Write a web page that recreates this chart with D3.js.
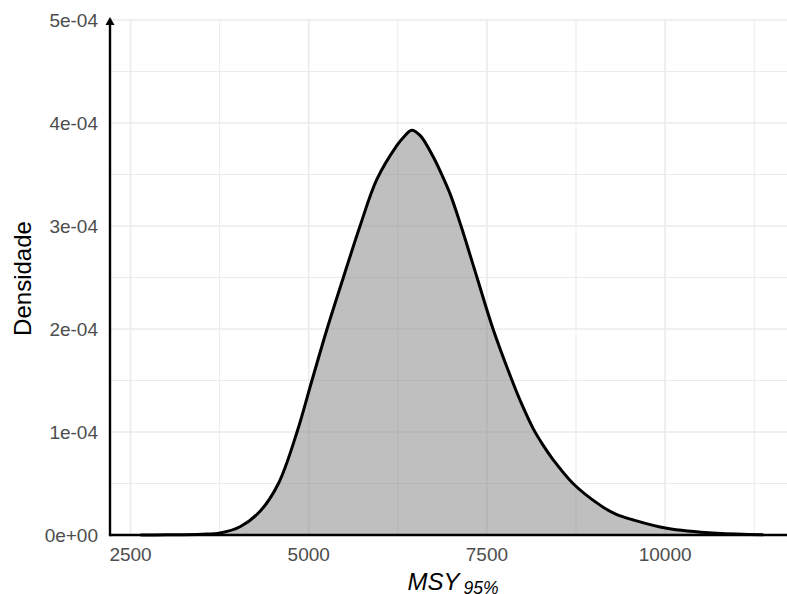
<!DOCTYPE html>
<meta charset="utf-8">
<style>
body { margin: 0; background: #fff; }
svg { display: block; font-family: "Liberation Sans", Arial, sans-serif; }
.grid line { stroke: #ebebeb; }
.tick-label { fill: #4d4d4d; font-size: 19px; }
</style>
<body>
<svg width="787" height="594"></svg>
<script src="https://cdn.jsdelivr.net/npm/d3@7"></script>
<script>

// density estimate of MSY 95%
var msy = [2640, 3000, 3500, 3756, 4036, 4317, 4575, 4836, 5045, 5257, 5486, 5720, 5954, 6235, 6327, 6445, 6562, 6748, 6866, 6990, 7137, 7361, 7586, 7853, 7989, 8151, 8290, 8430, 8708, 9087, 9300, 9554, 10023, 10724, 11378];
var dens = [0, 0.2e-6, 0.8e-6, 2e-6, 8e-6, 2.3e-5, 5e-5, 1.0e-4, 1.5e-4, 2.0e-4, 2.5e-4, 3.0e-4, 3.45e-4, 3.78e-4, 3.86e-4, 3.93e-4, 3.88e-4, 3.67e-4, 3.5e-4, 3.3e-4, 3.0e-4, 2.5e-4, 2.0e-4, 1.5e-4, 1.27e-4, 1.03e-4, 8.7e-5, 7.3e-5, 5.0e-5, 2.9e-5, 2.05e-5, 1.46e-5, 6.5e-6, 1.6e-6, 0.3e-6];

var xTicks = [2500, 5000, 7500, 10000];
var xMinor = [3750, 6250, 8750, 11250];
var yTicks = [0, 1e-4, 2e-4, 3e-4, 4e-4, 5e-4];
var yTickLabels = ["0e+00", "1e-04", "2e-04", "3e-04", "4e-04", "5e-04"];
var yMinor = [0.5e-4, 1.5e-4, 2.5e-4, 3.5e-4, 4.5e-4];

var svg = d3.select("svg"),
    width = +svg.attr("width"),
    height = +svg.attr("height");

var pLeft = 110, pRight = 787, pTop = 20, pBottom = 535;

var x = d3.scaleLinear()
    .domain([2212, 11710])
    .range([pLeft, pRight]);

var y = d3.scaleLinear()
    .domain([0, 5e-4])
    .range([pBottom, pTop]);

var data = msy.map(function(d, i) { return [d, dens[i]]; });

var grid = svg.append("g").attr("class", "grid");

grid.selectAll(".hmin")
  .data(yMinor)
  .enter().append("line")
    .attr("x1", pLeft).attr("x2", pRight)
    .attr("y1", y).attr("y2", y)
    .attr("stroke-width", 1);

grid.selectAll(".vmin")
  .data(xMinor)
  .enter().append("line")
    .attr("x1", x).attr("x2", x)
    .attr("y1", pTop).attr("y2", pBottom)
    .attr("stroke-width", 1);

grid.selectAll(".hmaj")
  .data(yTicks)
  .enter().append("line")
    .attr("x1", pLeft).attr("x2", pRight)
    .attr("y1", y).attr("y2", y)
    .attr("stroke-width", 1.6);

grid.selectAll(".vmaj")
  .data(xTicks)
  .enter().append("line")
    .attr("x1", x).attr("x2", x)
    .attr("y1", pTop).attr("y2", pBottom)
    .attr("stroke-width", 1.6);

var curve = d3.curveCatmullRom.alpha(0.5);

var area = d3.area()
    .curve(curve)
    .x(function(d) { return x(d[0]); })
    .y0(y(0))
    .y1(function(d) { return y(d[1]); });

var line = d3.line()
    .curve(curve)
    .x(function(d) { return x(d[0]); })
    .y(function(d) { return y(d[1]); });

svg.append("path")
    .datum(data)
    .attr("d", area)
    .attr("fill", "#7f7f7f")
    .attr("fill-opacity", 0.5);

svg.append("path")
    .datum(data)
    .attr("d", line)
    .attr("fill", "none")
    .attr("stroke", "#000")
    .attr("stroke-width", 3)
    .attr("stroke-linejoin", "round");

// axis lines
svg.append("line")
    .attr("x1", pLeft).attr("x2", pRight)
    .attr("y1", pBottom).attr("y2", pBottom)
    .attr("stroke", "#000")
    .attr("stroke-width", 2.4);

svg.append("line")
    .attr("x1", pLeft).attr("x2", pLeft)
    .attr("y1", pBottom + 1.2).attr("y2", pTop + 4)
    .attr("stroke", "#000")
    .attr("stroke-width", 2.4);

svg.append("path")
    .attr("d", "M" + pLeft + "," + (pTop - 3) + "L" + (pLeft + 4.5) + "," + (pTop + 5) + "L" + (pLeft - 4.5) + "," + (pTop + 5) + "Z")
    .attr("fill", "#000");

// tick labels
svg.selectAll(".xlab")
  .data(xTicks)
  .enter().append("text")
    .attr("class", "tick-label")
    .attr("x", x)
    .attr("y", 561)
    .attr("text-anchor", "middle")
    .text(function(d) { return d; });

svg.selectAll(".ylab")
  .data(yTicks)
  .enter().append("text")
    .attr("class", "tick-label")
    .attr("x", pLeft - 12)
    .attr("y", function(d) { return y(d) + 7; })
    .attr("text-anchor", "end")
    .text(function(d, i) { return yTickLabels[i]; });

// titles
var xt = svg.append("text")
    .attr("x", 453)
    .attr("y", 590)
    .attr("text-anchor", "middle")
    .attr("fill", "#000")
    .attr("font-style", "italic");
xt.append("tspan").attr("font-size", "24px").text("MSY");
xt.append("tspan").attr("font-size", "17.5px").attr("dx", 4).attr("dy", 4).text("95%");

svg.append("text")
    .attr("transform", "translate(31," + ((pTop + pBottom) / 2 + 1) + ") rotate(-90)")
    .attr("text-anchor", "middle")
    .attr("font-size", "24px")
    .attr("fill", "#000")
    .text("Densidade");

</script>
</body>
